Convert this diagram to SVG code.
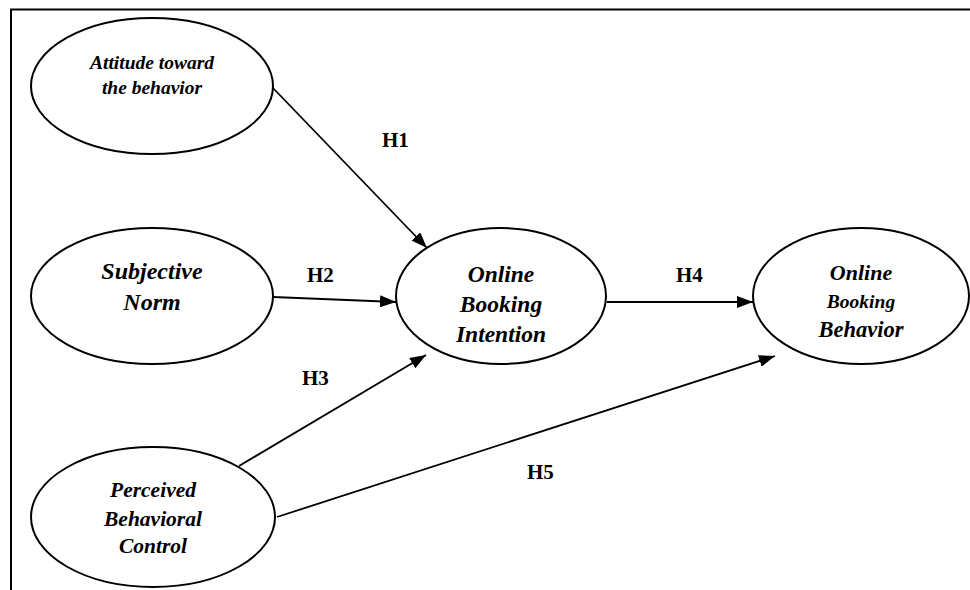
<svg xmlns="http://www.w3.org/2000/svg" width="970" height="590" viewBox="0 0 970 590">
<style>
.node ellipse{fill:#fff;stroke:#000;stroke-width:2}
.node text{font-family:"Liberation Serif","Times New Roman",serif;font-weight:bold;font-style:italic;fill:#000;text-anchor:middle}
.conn line{stroke:#000;stroke-width:1.8;fill:none}
.lbl{font-family:"Liberation Serif","Times New Roman",serif;font-weight:bold;font-size:21px;fill:#000}
</style>
<defs>
<marker id="arr" viewBox="0 0 16 12" refX="16" refY="6" markerWidth="16" markerHeight="12" markerUnits="userSpaceOnUse" orient="auto">
<path d="M0,0 L16,6 L0,12 Z" fill="#000"/>
</marker>
</defs>
<rect width="970" height="590" fill="#fff"/>
<g id="frame">
<line x1="10" y1="9.5" x2="970" y2="9.5" stroke="#000" stroke-width="2"/>
<line x1="11" y1="9" x2="11" y2="590" stroke="#000" stroke-width="2"/>
</g>
<g id="connectors" class="conn">
<line x1="273" y1="88" x2="427" y2="248" marker-end="url(#arr)"/>
<line x1="273" y1="297" x2="396" y2="302" marker-end="url(#arr)"/>
<line x1="239" y1="466" x2="426" y2="355" marker-end="url(#arr)"/>
<line x1="607" y1="302" x2="753" y2="302" marker-end="url(#arr)"/>
<line x1="277" y1="517" x2="775" y2="356" marker-end="url(#arr)"/>
</g>
<g id="labels">
<text class="lbl" x="382" y="147">H1</text>
<text class="lbl" x="307" y="282">H2</text>
<text class="lbl" x="302" y="385">H3</text>
<text class="lbl" x="676" y="282">H4</text>
<text class="lbl" x="527" y="479">H5</text>
</g>
<g id="attitude" class="node">
<ellipse cx="152" cy="86" rx="121" ry="68"/>
<text font-size="19.5" x="152" y="69">Attitude toward</text>
<text font-size="19.5" x="152" y="94">the behavior</text>
</g>
<g id="subjective-norm" class="node">
<ellipse cx="152" cy="296" rx="121" ry="68"/>
<text font-size="24" x="152" y="279">Subjective</text>
<text font-size="24" x="152" y="310">Norm</text>
</g>
<g id="intention" class="node">
<ellipse cx="501" cy="296" rx="105" ry="68"/>
<text font-size="23.5" x="501" y="282">Online</text>
<text font-size="23.5" x="501" y="312">Booking</text>
<text font-size="23.5" x="501" y="342">Intention</text>
</g>
<g id="behavior" class="node">
<ellipse cx="861" cy="296" rx="108" ry="68"/>
<text font-size="22" x="861" y="280">Online</text>
<text font-size="19.5" x="861" y="308">Booking</text>
<text font-size="22.5" x="861" y="337">Behavior</text>
</g>
<g id="pbc" class="node">
<ellipse cx="153" cy="517" rx="122" ry="70"/>
<text font-size="21.5" x="153" y="497">Perceived</text>
<text font-size="21.5" x="153" y="526">Behavioral</text>
<text font-size="21.5" x="153" y="553">Control</text>
</g>
</svg>
